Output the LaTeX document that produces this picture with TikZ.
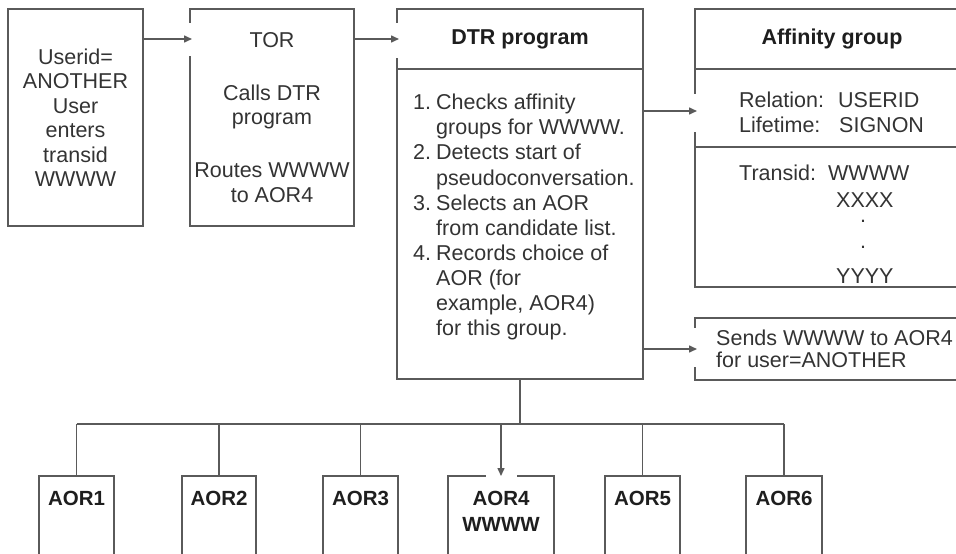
\documentclass[tikz,border=0pt]{standalone}
\usepackage{fontspec}
\setmainfont{Liberation Sans}
\usetikzlibrary{arrows.meta,positioning,calc}
\definecolor{cL}{HTML}{5a5a5a}
\definecolor{cT}{HTML}{333333}
\definecolor{cB}{HTML}{1e1e1e}
\newcommand{\bodyfont}{\fontsize{21.5}{24.5}\selectfont}
\newcommand{\listfont}{\fontsize{21.5}{25.1}\selectfont}
\newcommand{\headfont}{\fontsize{21.5}{24.5}\selectfont\bfseries}
\newcommand{\aorfont}{\fontsize{20.5}{26}\selectfont\bfseries}
\newcommand{\numbox}[1]{\makebox[23pt][l]{#1}}
\newcommand{\hang}{\hspace*{23pt}}
\tikzset{
  box/.style={draw=cL,line width=1.5pt,inner sep=0pt,outer sep=0pt,
              text=cT,font=\bodyfont,align=center},
  hdr/.style={box,font=\headfont,text=cB,minimum height=60pt},
  txt/.style={inner sep=0pt,text=cT,font=\bodyfont,align=left},
  aor/.style={draw=cL,line width=1.5pt,outer sep=0pt,anchor=north,minimum height=100pt},
  aorlbl/.style={anchor=north,inner xsep=0pt,inner ysep=15pt,font=\aorfont,
                 align=center,text=cB},
  link/.style={draw=cL,line width=1.5pt},
  flow/.style={link,-{Triangle[length=8pt,width=7pt]}},
  gap/.style={draw=white,line width=5pt},
}

\begin{document}
\begin{tikzpicture}[x=1pt,y=-1pt]
  \path[use as bounding box,clip] (0,0) rectangle (956,554);
  % terminal, TOR and DTR program
  \node[box,minimum width=135pt,minimum height=217pt] (user) at (75.5,117.5)
    {Userid=\\ANOTHER\\User\\enters\\transid\\WWWW};
  \node[box,minimum width=164pt,minimum height=217pt] (tor) at (272,117.5)
    {TOR\\[28.5pt]Calls DTR\\program\\[28.5pt]Routes WWWW\\to AOR4};
  \node[hdr,minimum width=246pt] (dtrhead) at (520,39) {DTR program};
  \node[box,minimum width=246pt,minimum height=310pt,below=0pt of dtrhead] (dtrbody) {};
  \node[txt,font=\listfont,below right=25pt and 16pt of dtrbody.north west] (dtrtxt)
    {\numbox{1.}Checks affinity\\\hang groups for WWWW.\\
     \numbox{2.}Detects start of\\\hang pseudoconversation.\\
     \numbox{3.}Selects an AOR\\\hang from candidate list.\\
     \numbox{4.}Records choice of\\\hang AOR (for\\\hang example, AOR4)\\
     \hang for this group.};
  % affinity group table
  \node[hdr,minimum width=274pt,anchor=north west] (affhead) at (695,9) {Affinity group};
  \node[box,minimum width=274pt,minimum height=78pt,below=0pt of affhead] (affrel) {};
  \node[box,minimum width=274pt,minimum height=140pt,below=0pt of affrel] (afftrans) {};
  \node[txt,below right=23pt and 44pt of affrel.north west] (reltxt)
    {\makebox[99pt][l]{Relation:}USERID\\\makebox[100pt][l]{Lifetime:}SIGNON};
  \node[txt,below right=18pt and 44pt of afftrans.north west] (transtxt)
    {\makebox[89pt][l]{Transid:}WWWW\\[2.5pt]\hspace*{97pt}XXXX\\[-10.2pt]
     \hspace*{121pt}.\\[1.5pt]\hspace*{121pt}.\\[10.7pt]\hspace*{97pt}YYYY};
  \node[box,minimum width=274pt,minimum height=62pt,anchor=north west] (sends) at (695,318) {};
  \node[txt,below right=12pt and 21pt of sends.north west] (sendtxt)
    {Sends WWWW to AOR4\\[-2.5pt]for user=ANOTHER};
  % application owning regions
  \node[aor,minimum width=75pt,label={[aorlbl]north:AOR1}] (a1) at (76.5,476) {};
  \node[aor,minimum width=74pt,label={[aorlbl]north:AOR2}] (a2) at (219,476) {};
  \node[aor,minimum width=75pt,label={[aorlbl]north:AOR3}] (a3) at (360.5,476) {};
  \node[aor,minimum width=106pt,label={[aorlbl]north:AOR4\\WWWW}] (a4) at (501,476) {};
  \node[aor,minimum width=75pt,label={[aorlbl]north:AOR5}] (a5) at (642.5,476) {};
  \node[aor,minimum width=76pt,label={[aorlbl]north:AOR6}] (a6) at (784,476) {};
  % openings where the arrows come in
  \draw[gap] ($(tor.north west)+(0,14)$) -- ++(0,33);
  \draw[gap] ($(dtrhead.north west)+(0,14)$) -- ++(0,35);
  \draw[gap] ($(affrel.north west)+(0,25)$) -- ++(0,38);
  \draw[gap] ($(sends.north west)+(0,10)$) -- ++(0,39);
  \draw[gap] ($(a4.north west)+(38,0)$) -- ++(31,0);
  % connectors
  \draw[flow] ($(user.north east)+(0,30)$) -- ($(tor.north west)+(2,30)$);
  \draw[flow] ($(tor.north east)+(0,30)$) -- ($(dtrhead.west)+(2,0)$);
  \draw[flow] ($(dtrbody.east |- affrel.west)+(0,3)$) -- ($(affrel.west)+(2,3)$);
  \draw[flow] (dtrbody.east |- sends.west) -- ($(sends.west)+(2,0)$);
  \coordinate (bus) at (520,424);
  \draw[link] (dtrbody.south) -- (bus);
  \draw[link] (a1.north |- bus) -- (a6.north |- bus);
  \foreach \n in {a1,a2,a3,a5,a6}
    \draw[link] (\n.north |- bus) -- (\n.north);
  \draw[flow] (a4.north |- bus) -- (a4.north);
\end{tikzpicture}
\end{document}
